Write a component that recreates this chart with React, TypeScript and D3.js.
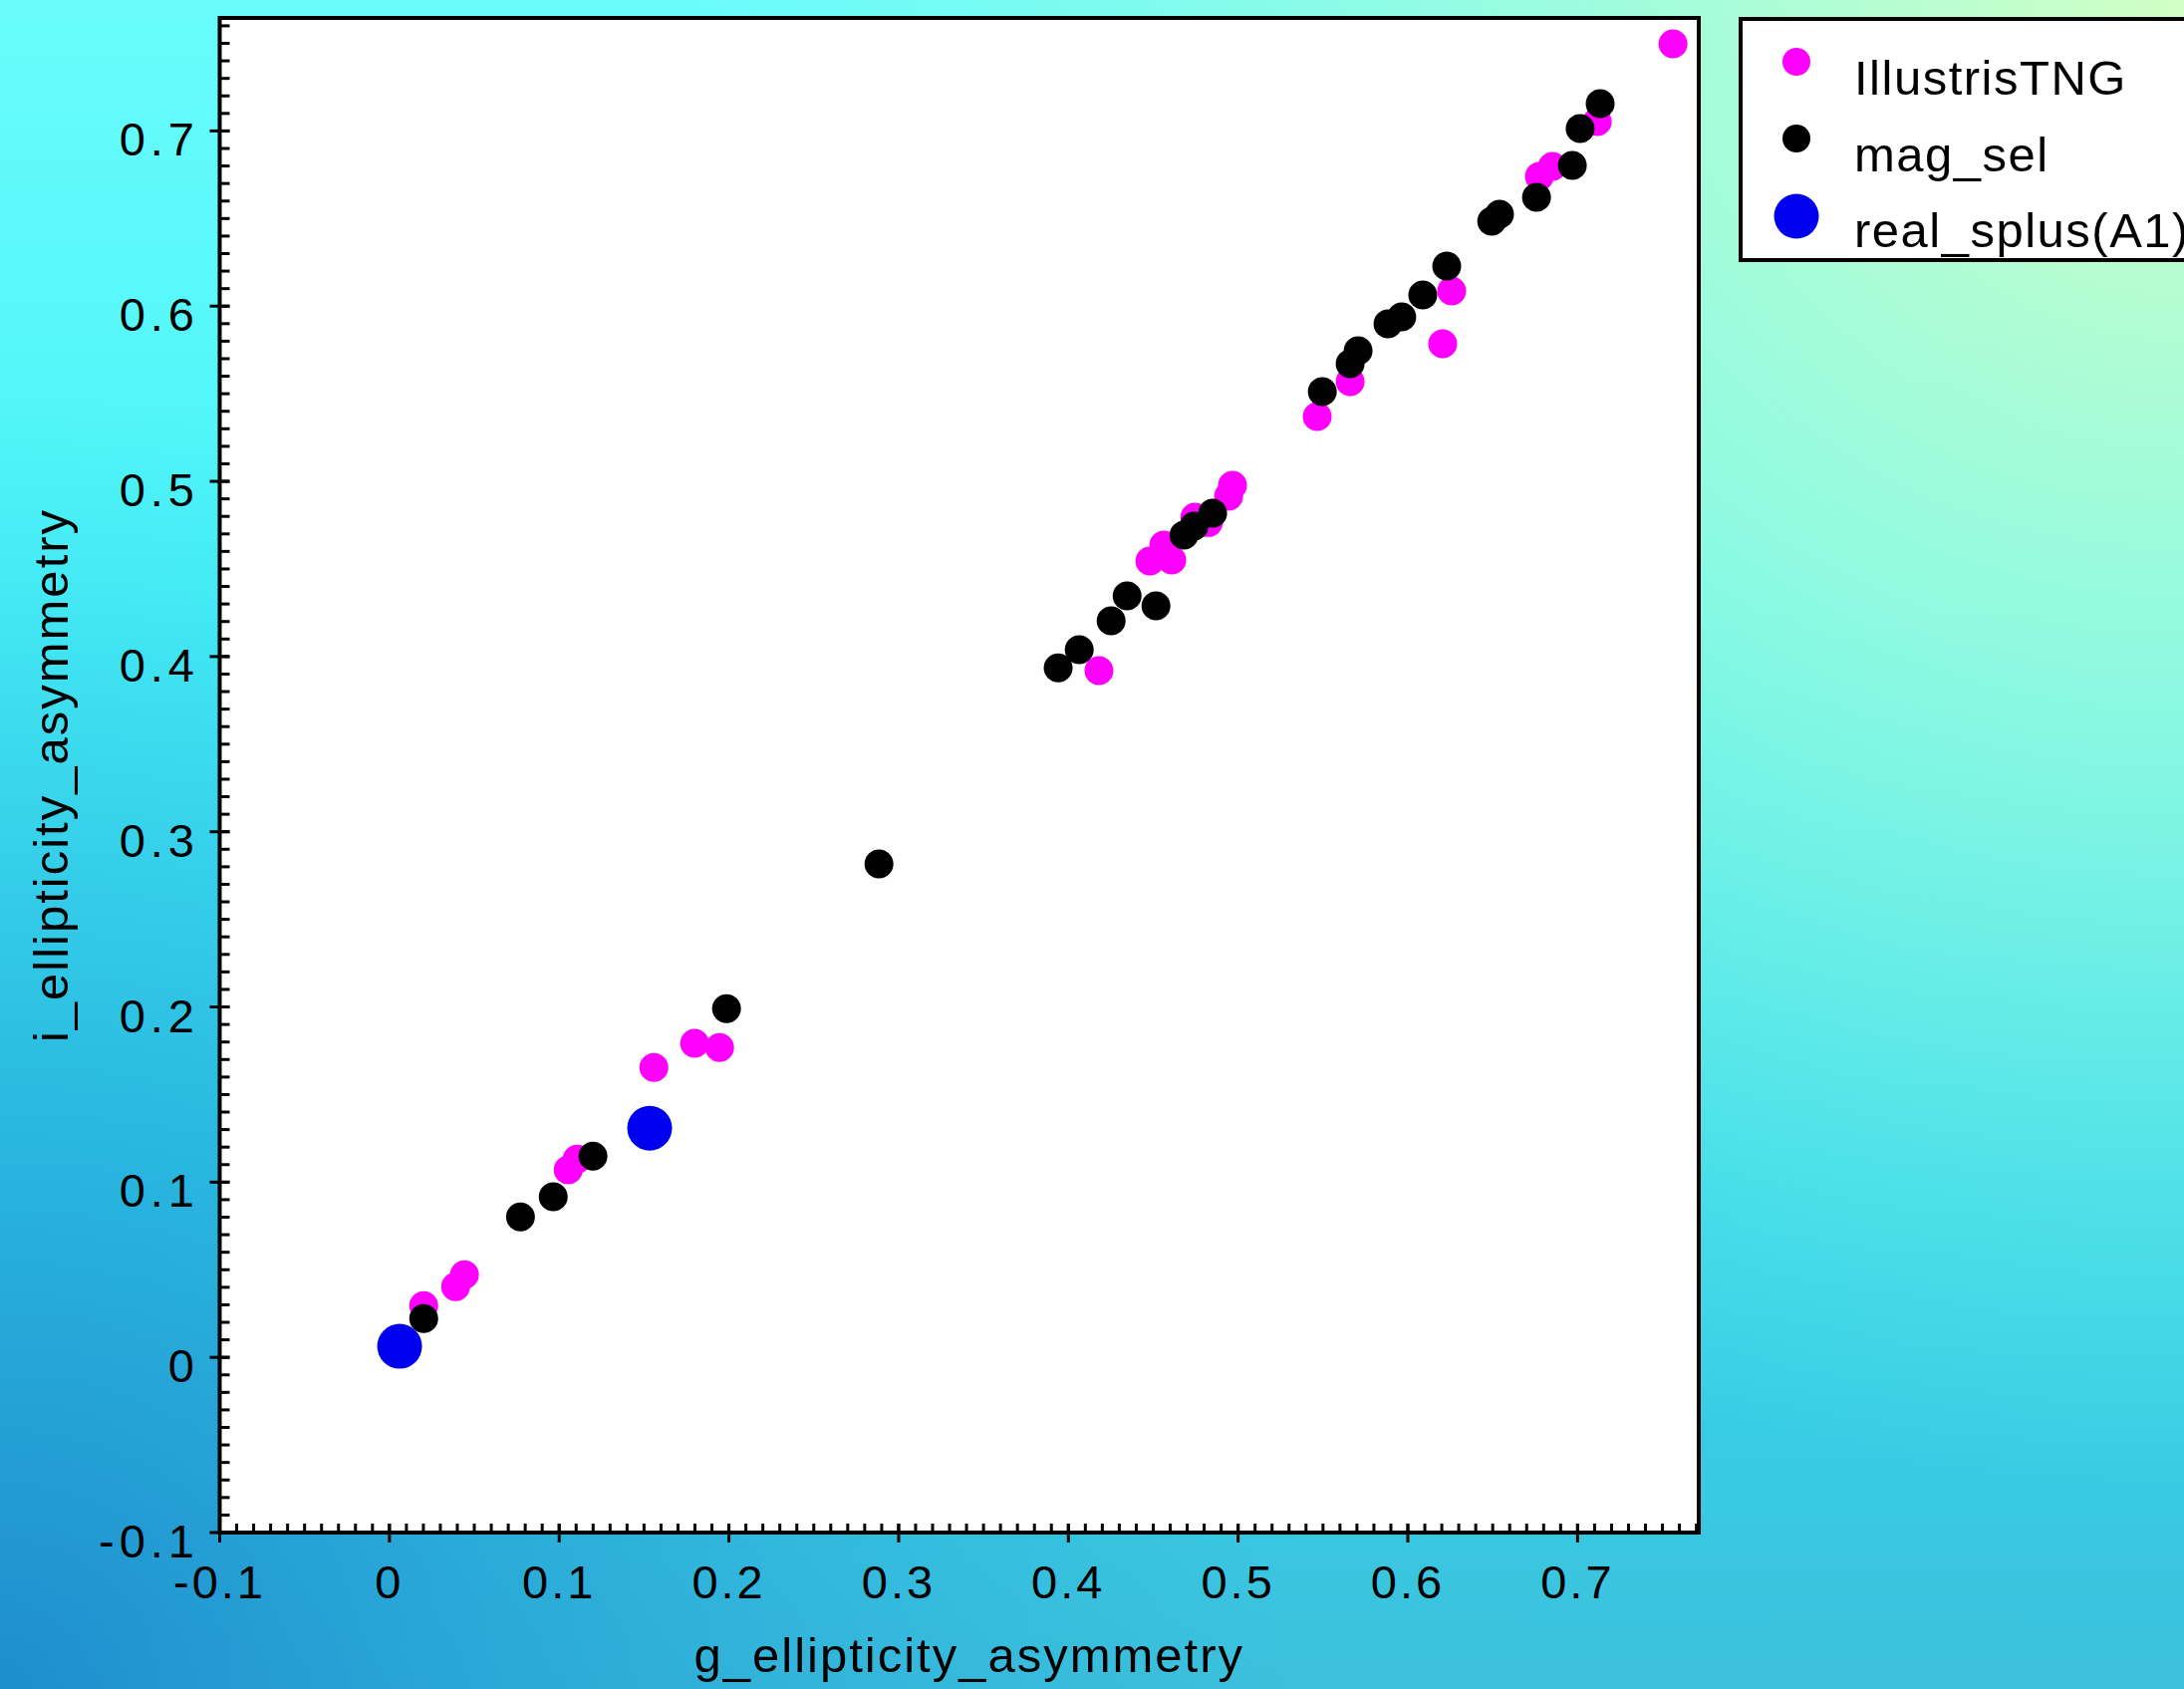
import React from "react";
import * as d3 from "d3";

const W = 2192;
const H = 1695;

const seriesNames = ["IllustrisTNG", "mag_sel", "real_splus(A1)"];
const seriesColors = ["#ff00ff", "#000000", "#0000f0"];

const illustrisX = [0.7562, 0.7116, 0.6775, 0.6852, 0.6258, 0.6205, 0.566, 0.5466, 0.4967, 0.4944, 0.4825, 0.4745, 0.448, 0.4609, 0.4562, 0.418, 0.1945, 0.1798, 0.1558, 0.1106, 0.1053, 0.0442, 0.039, 0.0202];
const illustrisY = [0.7497, 0.7053, 0.6741, 0.6798, 0.6086, 0.5785, 0.5569, 0.537, 0.4977, 0.4915, 0.4765, 0.4795, 0.4545, 0.4551, 0.4636, 0.3919, 0.1769, 0.1792, 0.1655, 0.1132, 0.107, 0.0472, 0.0404, 0.0296];

const magselX = [0.7133, 0.7015, 0.6969, 0.6758, 0.654, 0.6494, 0.6229, 0.6088, 0.5964, 0.5883, 0.5707, 0.566, 0.5496, 0.485, 0.474, 0.4681, 0.4516, 0.4346, 0.4252, 0.4064, 0.394, 0.2884, 0.1986, 0.1199, 0.0965, 0.0772, 0.0202];
const magselY = [0.7156, 0.7014, 0.6803, 0.6621, 0.6524, 0.6485, 0.6229, 0.6064, 0.5939, 0.5899, 0.5745, 0.5671, 0.5512, 0.4818, 0.4744, 0.4693, 0.4289, 0.4346, 0.4204, 0.4039, 0.3936, 0.2816, 0.199, 0.1149, 0.0916, 0.0802, 0.0222];

const realX = [0.006, 0.1533];
const realY = [0.0063, 0.1308];

const xMajorTicks = [-0.1, 0, 0.1, 0.2, 0.3, 0.4, 0.5, 0.6, 0.7];
const yMajorTicks = [-0.1, 0, 0.1, 0.2, 0.3, 0.4, 0.5, 0.6, 0.7];
const xTickLabels = ["-0.1", "0", "0.1", "0.2", "0.3", "0.4", "0.5", "0.6", "0.7"];
const yTickLabels = ["-0.1", "0", "0.1", "0.2", "0.3", "0.4", "0.5", "0.6", "0.7"];
const xMinorTicks = d3.range(-10, 78).map((i) => i / 100);
const yMinorTicks = d3.range(-10, 77).map((i) => i / 100);

const xTitle = "g_ellipticity_asymmetry";
const yTitle = "i_ellipticity_asymmetry";

const FONT = "'Liberation Sans', Arial, Helvetica, sans-serif";

export default function App() {
  const left = 220.5;
  const right = 1705;
  const top = 18;
  const bottom = 1538;
  const x = d3.scaleLinear().domain([-0.1, 0.7714]).range([left, right]);
  const y = d3.scaleLinear().domain([-0.1, 0.7645]).range([bottom, top]);

  const series = [
    { xs: illustrisX, ys: illustrisY, r: 14.5 },
    { xs: magselX, ys: magselY, r: 14.5 },
    { xs: realX, ys: realY, r: 22.5 },
  ];

  const legendY = [62, 139, 217];
  const legendR = [14, 14, 22.5];
  const legendTextY = [95, 172, 248];

  return (
    <svg
      width={W}
      height={H}
      style={{ position: "absolute", left: 0, top: 0, display: "block" }}
      xmlns="http://www.w3.org/2000/svg"
    >
      <defs>
        <linearGradient id="bgBase" x1="0" y1="0" x2="0" y2="1">
          <stop offset="0" stopColor="#6afcfc" />
          <stop offset="0.35" stopColor="#48f4f8" />
          <stop offset="0.7" stopColor="#34d8ec" />
          <stop offset="1" stopColor="#3cc0dc" />
        </linearGradient>
        <radialGradient id="bgBL" cx="0" cy={H} r="1300" gradientUnits="userSpaceOnUse">
          <stop offset="0" stopColor="#1a88cc" stopOpacity="0.9" />
          <stop offset="0.5" stopColor="#1e98d4" stopOpacity="0.45" />
          <stop offset="1" stopColor="#2aa8dc" stopOpacity="0" />
        </radialGradient>
        <radialGradient id="bgTR" cx={W} cy="0" r="1500" gradientUnits="userSpaceOnUse">
          <stop offset="0" stopColor="#d2ffc4" stopOpacity="1" />
          <stop offset="0.45" stopColor="#a8fcd8" stopOpacity="0.75" />
          <stop offset="1" stopColor="#90f8e0" stopOpacity="0" />
        </radialGradient>
      </defs>
      <rect x={0} y={0} width={W} height={H} fill="url(#bgBase)" />
      <rect x={0} y={0} width={W} height={H} fill="url(#bgBL)" />
      <rect x={0} y={0} width={W} height={H} fill="url(#bgTR)" />

      {/* plot area */}
      <rect x={left} y={top} width={right - left} height={bottom - top} fill="#ffffff" />

      {/* points */}
      {series.map((s, si) => (
        <g key={si} fill={seriesColors[si]}>
          {s.xs.map((xv, i) => (
            <circle key={i} cx={x(xv)} cy={y(s.ys[i])} r={s.r} />
          ))}
        </g>
      ))}

      {/* frame */}
      <rect x={left} y={top} width={right - left} height={bottom - top} fill="none" stroke="#000" strokeWidth={4} />

      {/* ticks */}
      <g stroke="#000" strokeWidth={3}>
        {xMinorTicks.map((t, i) => (
          <line key={"xm" + i} x1={x(t)} x2={x(t)} y1={bottom} y2={bottom - 9} />
        ))}
        {xMajorTicks.map((t, i) => (
          <line key={"xM" + i} x1={x(t)} x2={x(t)} y1={bottom + 10} y2={bottom - 9} />
        ))}
        {yMinorTicks.map((t, i) => (
          <line key={"ym" + i} x1={left} x2={left + 10} y1={y(t)} y2={y(t)} />
        ))}
        {yMajorTicks.map((t, i) => (
          <line key={"yM" + i} x1={left - 10} x2={left + 10} y1={y(t)} y2={y(t)} />
        ))}
      </g>

      {/* tick labels */}
      <g fontFamily={FONT} fontSize={47} fill="#000">
        {xMajorTicks.map((t, i) => (
          <text key={"xl" + i} x={x(t)} y={1604} textAnchor="middle" letterSpacing={3}>
            {xTickLabels[i]}
          </text>
        ))}
        {yMajorTicks.map((t, i) => (
          <text key={"yl" + i} x={200} y={y(t) + 25} textAnchor="end" letterSpacing={5}>
            {yTickLabels[i]}
          </text>
        ))}
      </g>

      {/* axis titles */}
      <text
        x={(left + right) / 2 + 10}
        y={1678}
        textAnchor="middle"
        fontFamily={FONT}
        fontSize={49}
        letterSpacing={2}
        fill="#000"
      >
        {xTitle}
      </text>
      <text
        transform={`translate(68, ${(top + bottom) / 2}) rotate(-90)`}
        textAnchor="middle"
        fontFamily={FONT}
        fontSize={49}
        letterSpacing={2}
        fill="#000"
      >
        {yTitle}
      </text>

      {/* legend */}
      <rect x={1747} y={19} width={500} height={242} fill="#ffffff" stroke="#000" strokeWidth={4} />
      {seriesNames.map((name, i) => (
        <g key={"lg" + i}>
          <circle cx={1803} cy={legendY[i]} r={legendR[i]} fill={seriesColors[i]} />
          <text x={1861} y={legendTextY[i]} fontFamily={FONT} fontSize={49} letterSpacing={1.5} fill="#000">
            {name}
          </text>
        </g>
      ))}
    </svg>
  );
}
